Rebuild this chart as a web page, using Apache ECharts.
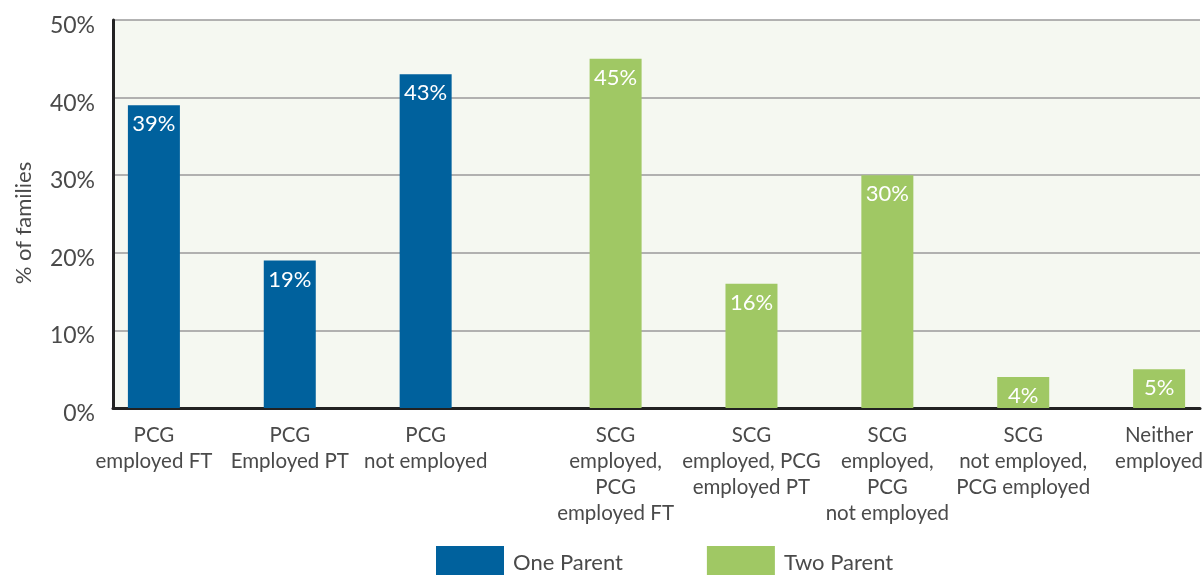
<!DOCTYPE html>
<html><head><meta charset="utf-8">
<script src="https://cdn.jsdelivr.net/npm/echarts@6/dist/echarts.min.js"></script>
<style>html,body{margin:0;padding:0;background:#fff}#c{width:1202px;height:575px}</style>
</head><body><div id="c"></div>
<script>
const categories = [
  'PCG\nemployed FT',
  'PCG\nEmployed PT',
  'PCG\nnot employed',
  'SCG\nemployed,\nPCG\nemployed FT',
  'SCG\nemployed, PCG\nemployed PT',
  'SCG\nemployed,\nPCG\nnot employed',
  'SCG\nnot employed,\nPCG employed',
  'Neither\nemployed'
];
const oneParent = [39, 19, 43, null, null, null, null, null];
const twoParent = [null, null, null, 45, 16, 30, 4, 5];
const yTicks = [0, 10, 20, 30, 40, 50];
const seriesNames = ['One Parent', 'Two Parent'];

const FONT = 'Lato';
const TXT = '#4a4a4a';
const chart = echarts.init(document.getElementById('c'));
const labelStyle = {
  show: true, position: 'insideTop', distance: 8, color: '#fff',
  fontSize: 22, fontFamily: FONT, formatter: p => p.value + '%'
};
chart.setOption({
  animation: false,
  textStyle: { fontFamily: FONT },
  grid: { left: 113, right: 2, top: 20, bottom: 167, show: true, backgroundColor: '#f5f8f1', borderWidth: 0,
          containLabel: false, outerBoundsMode: 'none' },
  legend: {
    left: 431, top: 541, itemWidth: 68, itemHeight: 34, itemGap: 84,
    icon: 'rect',
    textStyle: { fontSize: 22, color: TXT, fontFamily: FONT, padding: [0, 0, 0, 4] },
    data: seriesNames
  },
  xAxis: {
    type: 'category', data: categories,
    axisLine: { lineStyle: { color: '#222', width: 3 } },
    axisTick: { show: false },
    axisLabel: {
      interval: 0, margin: 14, color: TXT, fontSize: 20.5, fontFamily: FONT, lineHeight: 26,
      formatter: (v, i) => {
        const tag = oneParent[i] != null ? 'l' : 'r';
        return v.split('\n').map(s => '{' + tag + '|' + s + '}').join('\n');
      },
      rich: {
        l: { padding: [0, 54, 0, 0], fontSize: 20.5, lineHeight: 26, color: TXT, fontFamily: FONT },
        r: { padding: [0, 0, 0, 54], fontSize: 20.5, lineHeight: 26, color: TXT, fontFamily: FONT }
      }
    }
  },
  yAxis: {
    type: 'value', min: yTicks[0], max: yTicks[yTicks.length - 1], interval: 10,
    name: '% of families', nameLocation: 'middle', nameGap: 78, nameRotate: 90,
    nameTextStyle: { fontSize: 22, color: TXT, fontFamily: FONT, padding: [0, 18, 0, 0] },
    axisLine: { show: true, lineStyle: { color: '#222', width: 3 } },
    axisTick: { show: false },
    splitLine: { lineStyle: { color: '#9a9a9a', width: 1.5 } },
    axisLabel: {
      fontSize: 23, color: TXT, fontFamily: FONT, margin: 18,
      formatter: v => '{a|' + v + '%}',
      rich: { a: { fontSize: 23, color: TXT, fontFamily: FONT, padding: [11, 0, 0, 0] } }
    }
  },
  series: [
    { name: seriesNames[0], type: 'bar', data: oneParent, barWidth: 52, barGap: '4%',
      itemStyle: { color: '#00619d' }, label: labelStyle },
    { name: seriesNames[1], type: 'bar', data: twoParent, barWidth: 52, barGap: '4%',
      itemStyle: { color: '#a0c864' }, label: labelStyle }
  ]
});
</script></body></html>
